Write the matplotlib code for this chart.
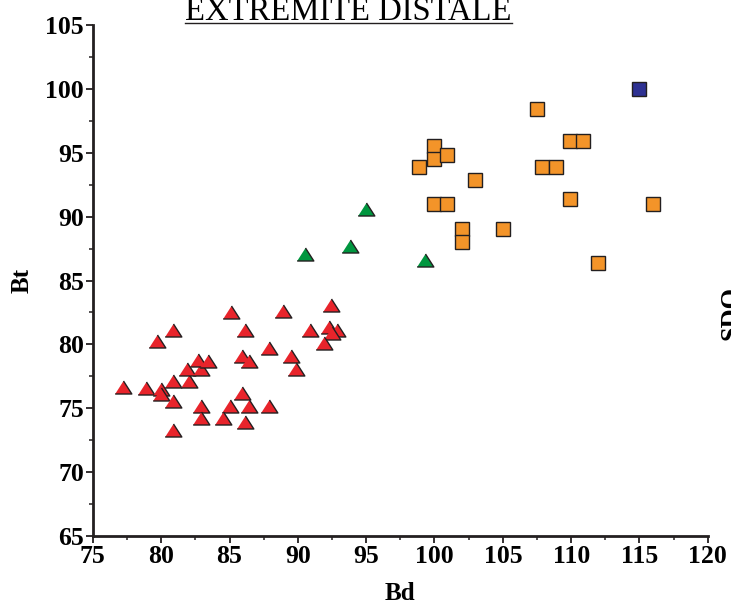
import matplotlib
matplotlib.use("Agg")
import matplotlib.pyplot as plt
from matplotlib.lines import Line2D
from matplotlib.ticker import MultipleLocator

plt.rcParams['font.family'] = ['Liberation Serif', 'DejaVu Serif']

# red triangles
red_bd = [77.2, 78.9, 80.0, 80.0, 80.9, 82.0, 80.9, 81.9, 82.9, 82.7, 83.4, 79.7,
          80.9, 85.1, 86.1, 85.9, 86.4, 87.9, 88.9, 89.5, 89.9, 90.9, 92.4, 92.3,
          92.9, 92.5, 91.9, 82.9, 82.9, 85.0, 84.5, 85.9, 86.4, 86.1, 87.9, 80.9]
red_bt = [76.7, 76.6, 76.5, 76.1, 77.1, 77.1, 75.6, 78.1, 78.1, 78.8, 78.7, 80.3,
          81.1, 82.5, 81.1, 79.1, 78.7, 79.7, 82.6, 79.1, 78.1, 81.1, 83.1, 81.4,
          81.1, 80.9, 80.1, 75.2, 74.2, 75.2, 74.2, 76.2, 75.2, 73.9, 75.2, 73.3]

# green triangles
green_bd = [95.0, 90.5, 93.8, 99.3]
green_bt = [90.6, 87.1, 87.7, 86.6]

# orange squares
orange_bd = [100.0, 100.0, 100.9, 98.9, 103.0, 107.5, 109.9, 110.9, 107.9, 108.9,
             109.9, 116.0, 100.0, 100.9, 102.0, 102.0, 105.0, 112.0]
orange_bt = [95.5, 94.5, 94.8, 93.9, 92.9, 98.4, 95.9, 95.9, 93.9, 93.9,
             91.4, 91.0, 91.0, 91.0, 89.0, 88.0, 89.0, 86.4]

# blue square
blue_bd = [115.0]
blue_bt = [100.0]

fig = plt.figure(figsize=(7.31, 6.06), dpi=100)
ax = fig.add_axes([0.127, 0.1155, 0.8413, 0.8432])

tri = [(-1, -0.78), (1, -0.78), (0, 0.78)]
edge = '#231f20'
ax.plot(red_bd, red_bt, linestyle='none', marker=tri, ms=12, mfc='#e8242b',
        mec=edge, mew=1.0, clip_on=False)
ax.plot(green_bd, green_bt, linestyle='none', marker=tri, ms=12, mfc='#00963f',
        mec=edge, mew=1.0, clip_on=False)
ax.plot(orange_bd, orange_bt, linestyle='none', marker='s', ms=9.4, mfc='#f39429',
        mec=edge, mew=1.0, clip_on=False)
ax.plot(blue_bd, blue_bt, linestyle='none', marker='s', ms=9.4, mfc='#2e3192',
        mec=edge, mew=1.0, clip_on=False)

ax.set_xlim(75, 120)
ax.set_ylim(65, 105)
ax.xaxis.set_major_locator(MultipleLocator(5))
ax.xaxis.set_minor_locator(MultipleLocator(2.5))
ax.yaxis.set_major_locator(MultipleLocator(5))
ax.yaxis.set_minor_locator(MultipleLocator(2.5))

for side in ['top', 'right']:
    ax.spines[side].set_visible(False)
for side in ['left', 'bottom']:
    ax.spines[side].set_linewidth(2.0)
    ax.spines[side].set_color('#231f20')

ax.tick_params(which='major', direction='out', length=5, width=1.3, color='#231f20',
               labelsize=18.5, pad=1.5)
ax.tick_params(which='minor', direction='out', length=3, width=1.1, color='#231f20')
for lab in ax.get_xticklabels() + ax.get_yticklabels():
    lab.set_fontweight('bold')

ax.set_xlabel('Bd', fontsize=18, fontweight='bold', labelpad=10)
ax.set_ylabel('Bt', fontsize=18, fontweight='bold', labelpad=8)

title = fig.text(0.477, 1 - 20 / 606, 'EXTREMITE DISTALE', fontsize=23.5,
                 ha='center', va='baseline')
# side label, cut by the right edge as in the source figure
fig.text(720 / 731, 1 - 313 / 606, 'SDO', fontsize=19, fontweight='bold',
         rotation=90, ha='left', va='center')

# underline the title
fig.canvas.draw()
bb = title.get_window_extent().transformed(fig.transFigure.inverted())
uy = 1 - 23 / 606
fig.add_artist(Line2D([bb.x0, bb.x1], [uy, uy], transform=fig.transFigure,
                      color='#231f20', lw=1.0))

fig.savefig('out.png', dpi=100)
